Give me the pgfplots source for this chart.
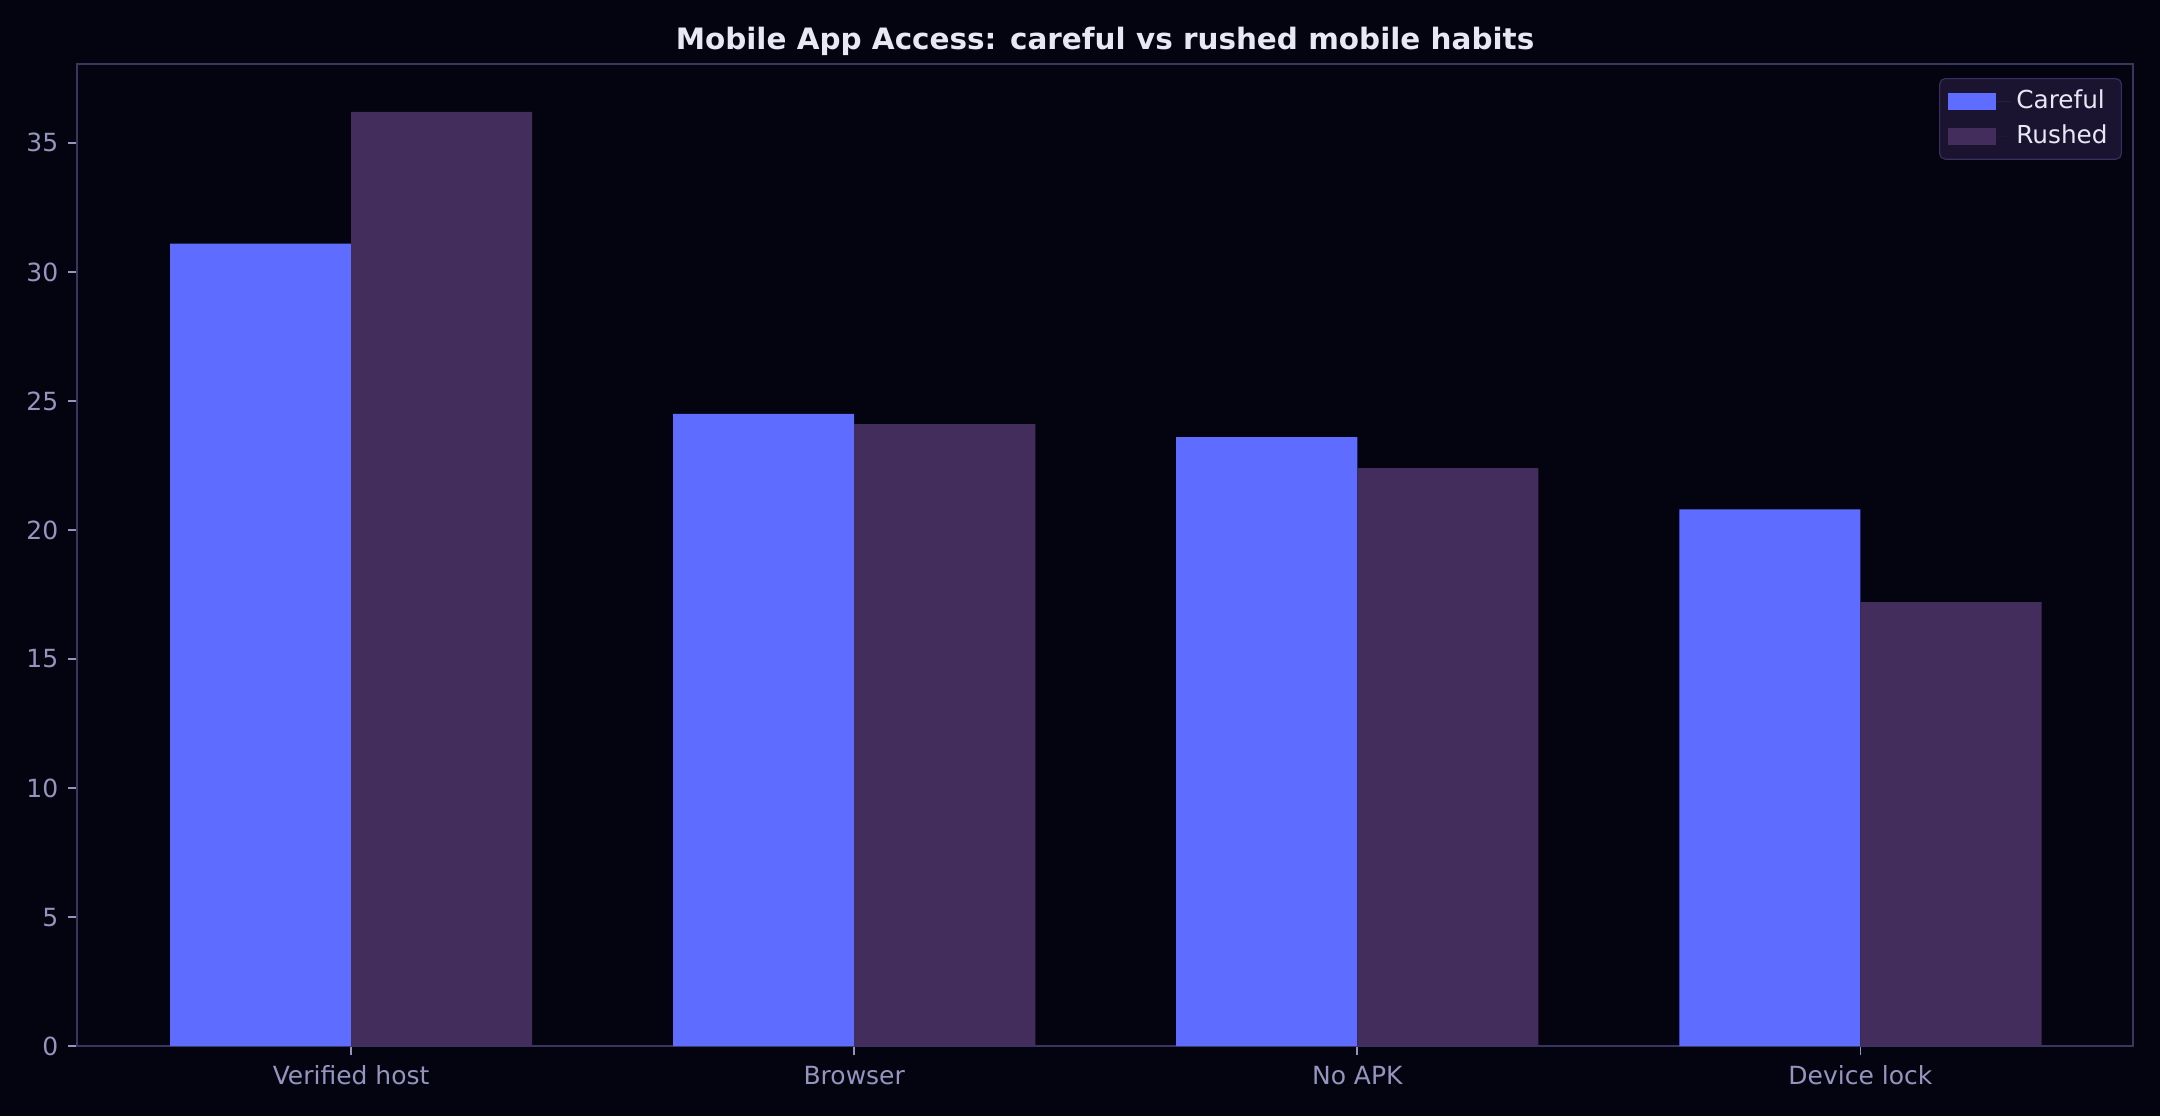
\documentclass[border=0pt]{standalone}
\usepackage{pgfplots}
\pgfplotsset{compat=1.18}
\usepackage{fontspec}
\setmainfont{DejaVu Sans}

\definecolor{bg}{HTML}{03040F}
\definecolor{careful}{HTML}{5E6CFF}
\definecolor{rushed}{HTML}{432D5C}
\definecolor{axisline}{HTML}{3A3460}
\definecolor{ticktext}{HTML}{9694BE}
\definecolor{titletext}{HTML}{E8E8F5}
\definecolor{legfill}{HTML}{1A1430}
\definecolor{legdraw}{HTML}{3A2F5E}

\begin{document}
\begin{tikzpicture}
\fill[bg] (-27.7pt,-25.2pt) rectangle (749.9pt,376.6pt);
\begin{axis}[
    at={(0,0)}, anchor=south west,
    scale only axis,
    width=740.2pt, height=353.5pt,
    xmin=-0.545, xmax=3.542,
    ymin=0, ymax=38.05,
    xtick={0,1,2,3},
    xticklabels={Verified host, Browser, No APK, Device lock},
    ytick={0,5,10,15,20,25,30,35},
    /pgf/number format/assume math mode=true,
    axis line style={axisline, line width=0.8pt},
    tick align=outside,
    major tick length=3.2pt,
    tick style={ticktext, line width=0.6pt},
    xtick pos=bottom, ytick pos=left,
    tick label style={font=\fontsize{9}{11}\selectfont, text=ticktext},
    xticklabel style={anchor=base, yshift=-10.6pt},
    title={\bfseries Mobile App Access: careful vs rushed mobile habits},
    title style={at={(0.5,1)}, anchor=base, yshift=-0.6pt,
        font=\fontsize{10.6}{12}\selectfont, text=titletext},
    ybar,
    bar width=0.36,
    legend style={at={(1,1)}, anchor=north east, xshift=-4pt, yshift=-5pt,
        fill=legfill, draw=legdraw, rounded corners=2pt,
        font=\fontsize{8.9}{10.5}\selectfont, text=titletext,
        row sep=0.5pt, inner xsep=3pt, inner ysep=2pt},
    legend cell align=left,
    legend image code/.code={\fill[#1, sharp corners] (0pt,-3.1pt) rectangle (17.4pt,3.1pt);
        \path (0pt,0pt) -- (22.6pt,0pt);},
]
\addplot[draw=none, fill=careful, bar shift=-0.18] coordinates {(0,31.1) (1,24.5) (2,23.6) (3,20.8)};
\addlegendentry{Careful}
\addplot[draw=none, fill=rushed, bar shift=0.18] coordinates {(0,36.2) (1,24.1) (2,22.4) (3,17.2)};
\addlegendentry{Rushed}
\end{axis}
\end{tikzpicture}
\end{document}
